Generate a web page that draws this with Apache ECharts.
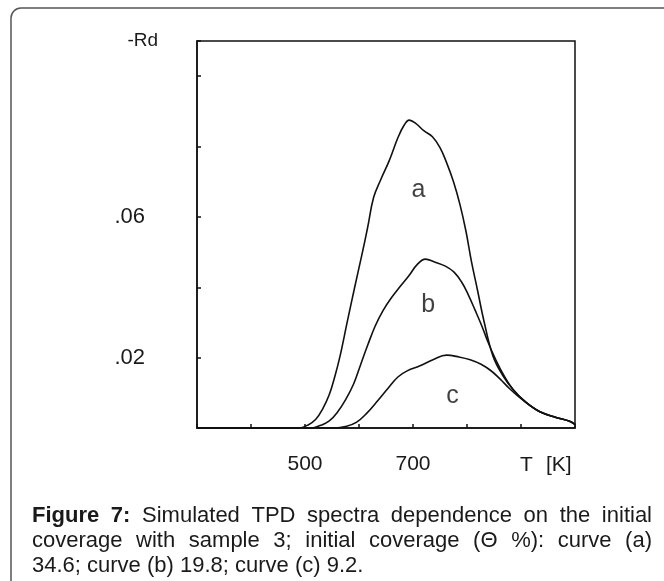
<!DOCTYPE html>
<html>
<head>
<meta charset="utf-8">
<title>TPD spectra</title>
<script src="https://cdn.jsdelivr.net/npm/echarts@6/dist/echarts.min.js"></script>
<style>
  html, body { margin: 0; padding: 0; background: #fff; }
  #chart { width: 664px; height: 581px; }
</style>
</head>
<body>
<div id="chart"></div>
<script>
// temperature [K], -Rd values
const curveA = [
  [300, 0], [488, 0], [505, 0.0008], [520, 0.0025], [533, 0.0055], [545, 0.0095],
  [555, 0.0145], [565, 0.0205], [578, 0.030], [592, 0.040], [605, 0.049],
  [616, 0.057], [627, 0.0655], [640, 0.0705], [656, 0.076], [672, 0.0825],
  [684, 0.0862], [693, 0.0875], [705, 0.0866], [720, 0.0845], [736, 0.0828],
  [750, 0.0797], [762, 0.0755], [775, 0.0700], [787, 0.0635], [798, 0.0560],
  [808, 0.0475], [819, 0.0395], [832, 0.0300], [848, 0.0205], [866, 0.0150],
  [886, 0.0108], [910, 0.0072], [935, 0.0046], [965, 0.0030], [990, 0.0019],
  [1000, 0.0010]
]
const curveB = [
  [300, 0], [512, 0], [528, 0.0007], [545, 0.0020], [560, 0.0045], [575, 0.0080],
  [590, 0.0125], [603, 0.0180], [616, 0.0235], [630, 0.0290], [645, 0.0335],
  [660, 0.0370], [675, 0.0400], [692, 0.0432], [708, 0.0465], [723, 0.0480],
  [740, 0.0472], [760, 0.0460], [776, 0.0443], [790, 0.0415], [802, 0.0380],
  [815, 0.0335], [828, 0.0288], [840, 0.0240], [852, 0.0198], [868, 0.0150],
  [886, 0.0108], [910, 0.0072], [935, 0.0046], [965, 0.0030], [990, 0.0019],
  [1000, 0.0010]
]
const curveC = [
  [300, 0], [555, 0], [575, 0.0004], [595, 0.0016], [615, 0.0043], [635, 0.0078],
  [655, 0.0115], [672, 0.0145], [690, 0.0163], [712, 0.0176], [738, 0.0195],
  [762, 0.0207], [785, 0.0202], [806, 0.0194], [826, 0.0181], [845, 0.0162],
  [862, 0.0138], [878, 0.0113], [895, 0.0090], [915, 0.0066], [935, 0.0046],
  [965, 0.0030], [990, 0.0019], [1000, 0.0010]
]
const curveLabels = [
  ['a', 710, 0.0676],
  ['b', 728, 0.035],
  ['c', 773, 0.0091]
]
const xTickLabels = { 500: '500', 700: '700' }
const yTickLabels = ['.02', '.06']
const yTickValues = [0.02, 0.06]
const xAxisTitle = ['T', '[K]']

const captionLines = [
  [['Figure', true], ['7:', true], 'Simulated', 'TPD', 'spectra', 'dependence', 'on', 'the', 'initial'],
  ['coverage', 'with', 'sample', '3;', 'initial', 'coverage', '(Θ', '%):', 'curve', '(a)'],
  ['34.6;', 'curve', '(b)', '19.8;', 'curve', '(c)', '9.2.']
]

const font = 'Liberation Sans, Arial, sans-serif'
const chart = echarts.init(document.getElementById('chart'))

// justified caption, word by word
const ctx = document.createElement('canvas').getContext('2d')
const captionSize = 22
const captionGraphics = []
captionLines.forEach((line, i) => {
  const words = line.map(w => Array.isArray(w) ? { t: w[0], b: w[1] } : { t: w, b: false })
  const widths = words.map(w => {
    ctx.font = (w.b ? 'bold ' : '') + captionSize + 'px ' + font
    return ctx.measureText(w.t).width
  })
  const total = widths.reduce((s, v) => s + v, 0)
  const x0 = 32
  const x1 = 652
  const justify = i < captionLines.length - 1
  ctx.font = captionSize + 'px ' + font
  const gap = justify ? (x1 - x0 - total) / (words.length - 1) : ctx.measureText(' ').width
  let x = x0
  words.forEach((w, k) => {
    captionGraphics.push({
      type: 'text',
      x: x,
      y: 516 + i * 25,
      style: {
        text: w.t,
        font: (w.b ? 'bold ' : '') + captionSize + 'px ' + font,
        fill: '#1a1a1a',
        verticalAlign: 'middle'
      }
    })
    x += widths[k] + gap
  })
})

function lineSeries (name, data) {
  return {
    name: name,
    type: 'line',
    data: data,
    showSymbol: false,
    smooth: 0.4,
    lineStyle: { color: '#111', width: 1.6 },
    z: 3
  }
}

chart.setOption({
  animation: false,
  backgroundColor: '#fff',
  grid: {
    left: 197,
    right: 89,
    top: 41,
    bottom: 153,
    show: true,
    borderColor: '#111',
    borderWidth: 1.5
  },
  xAxis: {
    type: 'value',
    min: 300,
    max: 1000,
    interval: 100,
    splitLine: { show: false },
    axisLine: { lineStyle: { color: '#111', width: 1.5 } },
    axisTick: { inside: true, length: 4, lineStyle: { color: '#111', width: 1.5 } },
    axisLabel: {
      margin: 26,
      fontFamily: font,
      fontSize: 21,
      color: '#1a1a1a',
      formatter: v => xTickLabels[v] || ''
    }
  },
  yAxis: {
    type: 'value',
    min: 0,
    max: 0.11,
    interval: 0.02,
    name: '-Rd',
    nameLocation: 'end',
    nameGap: 0,
    nameTextStyle: {
      fontFamily: font,
      fontSize: 19,
      color: '#1a1a1a',
      align: 'right',
      verticalAlign: 'middle',
      padding: [0, 39, 0, 0]
    },
    splitLine: { show: false },
    axisLine: { lineStyle: { color: '#111', width: 1.5 } },
    axisTick: { inside: true, length: 4, lineStyle: { color: '#111', width: 1.5 } },
    axisLabel: {
      margin: 52,
      fontFamily: font,
      fontSize: 22,
      color: '#1a1a1a',
      formatter: v => {
        const k = yTickValues.findIndex(t => Math.abs(t - v) < 1e-9)
        return k >= 0 ? yTickLabels[k] : ''
      }
    }
  },
  graphic: [
    {
      type: 'rect',
      shape: { x: 11, y: 8, width: 720, height: 640, r: 10 },
      style: { fill: 'none', stroke: '#555', lineWidth: 1.5 },
      silent: true
    },
    {
      type: 'text',
      x: 520,
      y: 465,
      style: { text: xAxisTitle[0], font: '21px ' + font, fill: '#1a1a1a', verticalAlign: 'middle' }
    },
    {
      type: 'text',
      x: 546,
      y: 465,
      style: { text: xAxisTitle[1], font: '21px ' + font, fill: '#1a1a1a', verticalAlign: 'middle' }
    }
  ].concat(captionGraphics),
  series: [
    lineSeries('a', curveA),
    lineSeries('b', curveB),
    lineSeries('c', curveC),
    {
      type: 'scatter',
      data: curveLabels.map(d => [d[1], d[2], d[0]]),
      symbolSize: 0,
      silent: true,
      label: {
        show: true,
        position: 'inside',
        formatter: p => p.data[2],
        fontFamily: font,
        fontSize: 25,
        color: '#111'
      }
    }
  ]
})
</script>
</body>
</html>
